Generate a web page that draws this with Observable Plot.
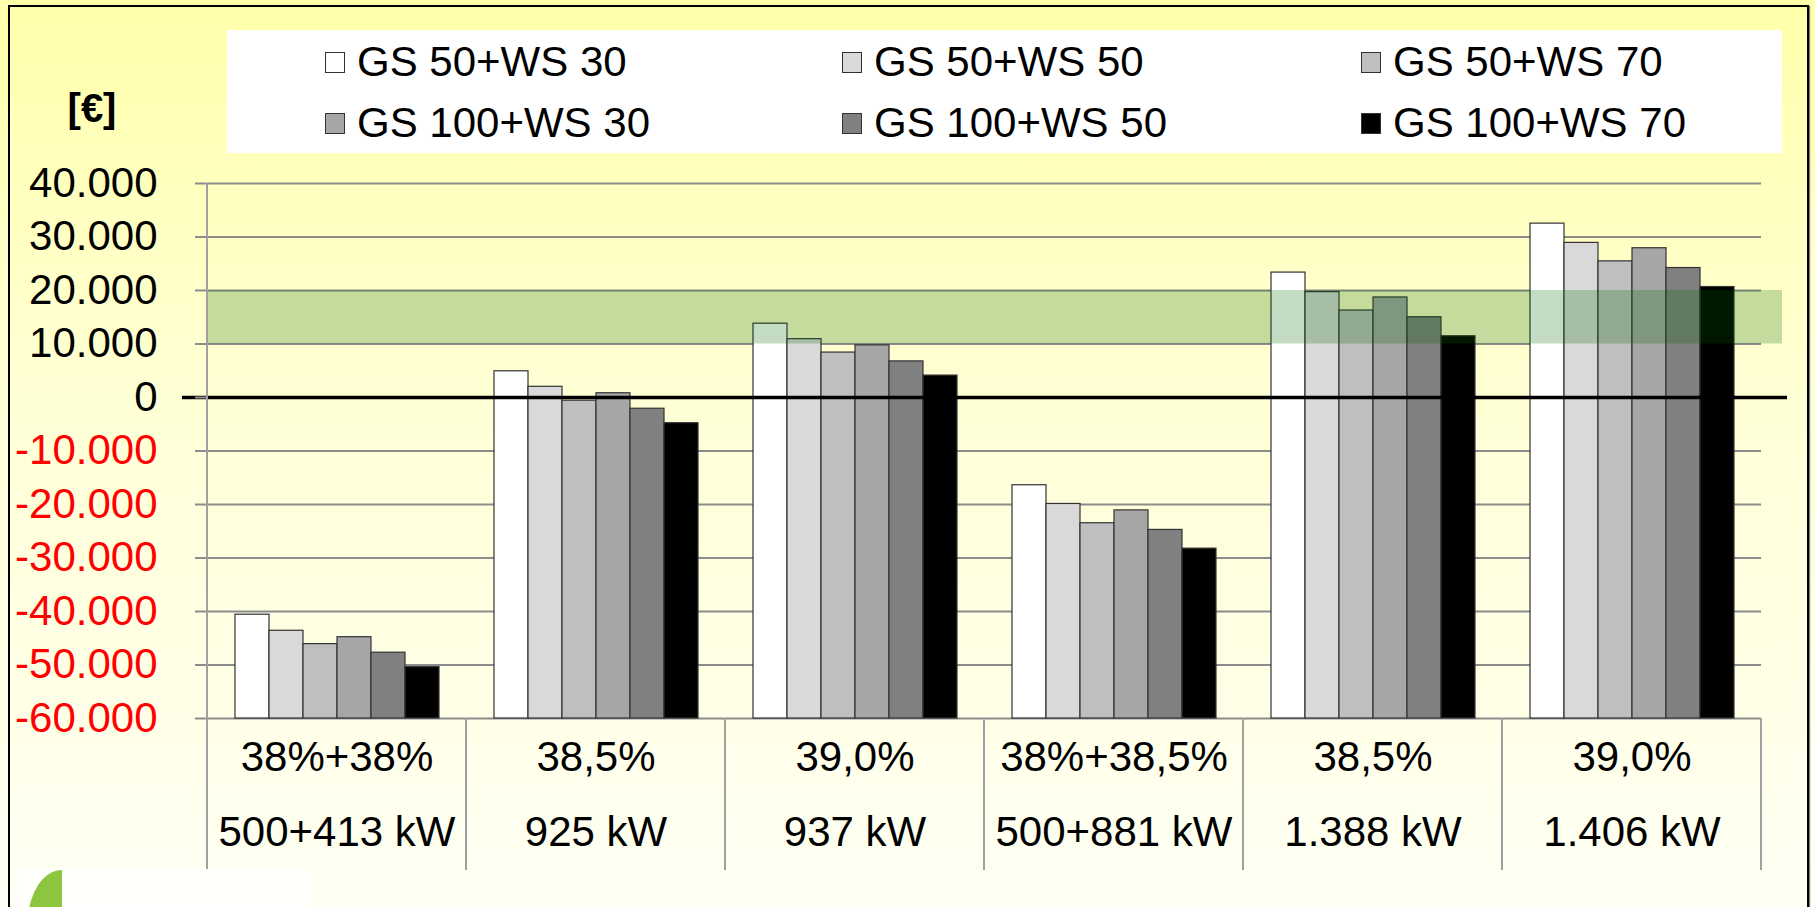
<!DOCTYPE html>
<html>
<head>
<meta charset="utf-8">
<script src="https://cdn.jsdelivr.net/npm/d3@7"></script>
<script src="https://cdn.jsdelivr.net/npm/@observablehq/plot@0.6"></script>
<style>
  html, body { margin: 0; padding: 0; }
  body {
    width: 1815px; height: 907px; overflow: hidden; position: relative;
    background: linear-gradient(to bottom, #ffffaa 0%, #ffffd6 45%, #fffff4 100%);
    font-family: "Liberation Sans", Arial, sans-serif;
  }
  #frame {
    position: absolute; left: 8px; top: 5px; width: 1801px; height: 940px;
    border: 2.5px solid #000; box-shadow: 1px 1px 1px #777; box-sizing: border-box;
  }
  #legend {
    position: absolute; left: 227px; top: 30px; width: 1555px; height: 123px;
    background: #ffffff;
  }
  .item { position: absolute; height: 42px; display: flex; align-items: center; font-size: 42px; color: #000; white-space: nowrap; }
  .sw { width: 20px; height: 21px; border: 1px solid #333; box-sizing: border-box; margin-right: 12px; }
  #unit { position: absolute; left: 92px; top: 108px; transform: translate(-50%, -50%); font-weight: bold; font-size: 40px; }
  #chart { position: absolute; left: 0; top: 0; }
  #logoBox { position: absolute; left: 17px; top: 869px; width: 295px; height: 40px; background: #fffffb; }
  #leaf { position: absolute; left: 28px; top: 870px; width: 34px; height: 52px; background: #8cc63f;
    border-top-left-radius: 100% 100%; }
</style>
</head>
<body>
<div id="frame"></div>
<div id="chart"></div>
<div id="legend"></div>
<div id="unit">[€]</div>
<div id="logoBox"></div>
<div id="leaf"></div>
<script>
// ---- data ----
const catLine1 = ["38%+38%", "38,5%", "39,0%", "38%+38,5%", "38,5%", "39,0%"];
const catLine2 = ["500+413 kW", "925 kW", "937 kW", "500+881 kW", "1.388 kW", "1.406 kW"];
const seriesNames = ["GS 50+WS 30", "GS 50+WS 50", "GS 50+WS 70", "GS 100+WS 30", "GS 100+WS 50", "GS 100+WS 70"];
const seriesColors = ["#ffffff", "#d9d9d9", "#bfbfbf", "#a6a6a6", "#808080", "#000000"];
const gs50ws30  = [-40600,  4900, 13800, -16400, 23350, 32500];
const gs50ws50  = [-43600,  2000, 10900, -19900, 19700, 28900];
const gs50ws70  = [-46100,  -600,  8400, -23500, 16250, 25450];
const gs100ws30 = [-44800,   800,  9750, -21100, 18700, 27900];
const gs100ws50 = [-47700, -2100,  6750, -24750, 15000, 24200];
const gs100ws70 = [-50400, -4800,  4100, -28250, 11450, 20650];
const yTicks = [40000, 30000, 20000, 10000, 0, -10000, -20000, -30000, -40000, -50000, -60000];
const yDomain = [-60000, 40000];
const targetBand = [10000, 20000];

// ---- build table ----
const categories = catLine1.map((l, i) => l + "\n" + catLine2[i]);
const seriesValues = [gs50ws30, gs50ws50, gs50ws70, gs100ws30, gs100ws50, gs100ws70];
const data = [];
categories.forEach((c, i) => {
  seriesNames.forEach((s, j) => data.push({cat: c, series: s, value: seriesValues[j][i]}));
});
const firstCat = [categories[0]];
const midCats = categories.slice(1, -1);
const lastCat = [categories[categories.length - 1]];

const loc = d3.formatLocale({decimal: ",", thousands: ".", grouping: [3], currency: ["", "€"], minus: "-"});
const fmt = loc.format(",");

const FONT = "Liberation Sans, Arial, sans-serif";
const base = yDomain[0];

const bandOpts = {fx: d => d, y1: () => targetBand[0], y2: () => targetBand[1], fill: "rgb(0,100,0)", fillOpacity: 0.23};
const zeroOpts = {fx: d => d, y: () => 0, stroke: "#000", strokeWidth: 3.5};

const plot = Plot.plot({
  width: 1815,
  height: 907,
  marginLeft: 206,
  marginRight: 54,
  marginTop: 183,
  marginBottom: 189,
  style: {background: "transparent", fontFamily: FONT},
  fx: {domain: categories, padding: 0, axis: null},
  x: {domain: seriesNames, paddingInner: 0, paddingOuter: 0.735, axis: null},
  y: {domain: yDomain, axis: null},
  color: {domain: seriesNames, range: seriesColors},
  marks: [
    Plot.ruleY(yTicks, {stroke: "#8c8c8c", strokeWidth: 2}),
    Plot.barY(data, {fx: "cat", x: "series", y1: () => base, y2: "value", fill: "series", stroke: "#333", strokeWidth: 1.2}),
    Plot.rect([...firstCat, ...midCats], bandOpts),
    Plot.rect(lastCat, {...bandOpts, insetRight: -21}),
    Plot.ruleY(firstCat, {...zeroOpts, insetLeft: -25}),
    Plot.ruleY(midCats, zeroOpts),
    Plot.ruleY(lastCat, {...zeroOpts, insetRight: -26}),
    Plot.axisY(yTicks.filter(d => d >= 0), {tickFormat: d => fmt(d), fontSize: 42, tickSize: 12, tickPadding: 38, stroke: "#8c8c8c", strokeWidth: 2, fill: "#000", label: null}),
    Plot.axisY(yTicks.filter(d => d < 0), {tickFormat: d => fmt(d), fontSize: 42, tickSize: 12, tickPadding: 38, stroke: "#8c8c8c", strokeWidth: 2, fill: "#ff0000", label: null}),
    Plot.text(categories, {fx: d => d, text: (d, i) => catLine1[i], frameAnchor: "bottom", dy: 52, fontSize: 42, fill: "#000"}),
    Plot.text(categories, {fx: d => d, text: (d, i) => catLine2[i], frameAnchor: "bottom", dy: 127, fontSize: 42, fill: "#000"})
  ]
});

// category separators from the fx scale
const fxS = plot.scale("fx");
const yS = plot.scale("y");
const g = d3.select(plot).append("g").attr("stroke", "#a0a0a0").attr("stroke-width", 2);
const yTop = yS.apply(yDomain[1]);
const yBot = yS.apply(yDomain[0]);
const edges = categories.map(c => fxS.apply(c));
edges.push(fxS.apply(categories[categories.length - 1]) + fxS.bandwidth);
edges.forEach((x, i) => {
  g.append("line").attr("x1", x).attr("x2", x)
    .attr("y1", i === 0 ? yTop : yBot).attr("y2", yBot + 152);
});

document.getElementById("chart").appendChild(plot);

// legend
const legend = document.getElementById("legend");
const colX = [98, 615, 1134];
const rowY = [11, 72];
seriesNames.forEach((s, i) => {
  const it = document.createElement("div");
  it.className = "item";
  it.style.left = colX[i % 3] + "px";
  it.style.top = rowY[Math.floor(i / 3)] + "px";
  const sw = document.createElement("div");
  sw.className = "sw";
  sw.style.background = seriesColors[i];
  it.appendChild(sw);
  const t = document.createElement("span");
  t.textContent = s;
  it.appendChild(t);
  legend.appendChild(it);
});
</script>
</body>
</html>
